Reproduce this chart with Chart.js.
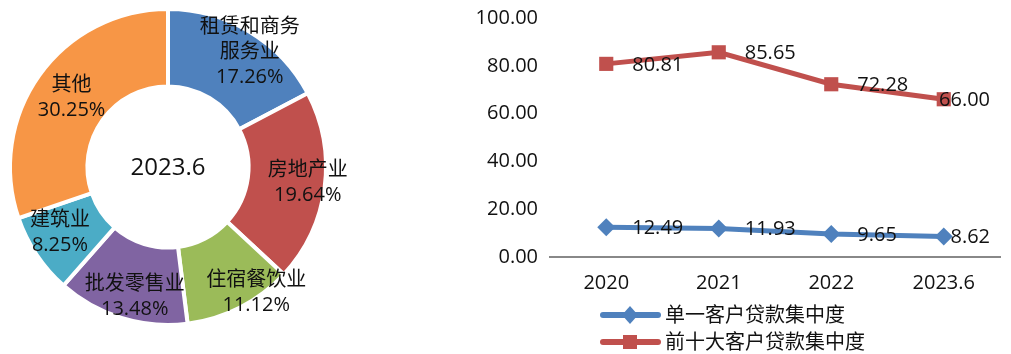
<!DOCTYPE html>
<html>
<head>
<meta charset="utf-8">
<script src="https://cdn.jsdelivr.net/npm/chart.js@4.4.0/dist/chart.umd.min.js"></script>
<style>
html, body { margin: 0; padding: 0; background: #fff; }
body { width: 1011px; height: 354px; position: relative; overflow: hidden; }
#pieBox { position: absolute; left: 0; top: 0; width: 380px; height: 354px; }
#lineBox { position: absolute; left: 470px; top: 0; width: 541px; height: 354px; }
</style>
</head>
<body>
<div id="pieBox"><canvas id="pieChart"></canvas></div>
<div id="lineBox"><canvas id="lineChart"></canvas></div>
<script>
const FONT = "'Open Sans', 'Noto Sans CJK SC', sans-serif";

// 贷款行业分布 (2023.6)
const industries = [['租赁和商务', '服务业'], ['房地产业'], ['住宿餐饮业'], ['批发零售业'], ['建筑业'], ['其他']];
const industryShares = [17.26, 19.64, 11.12, 13.48, 8.25, 30.25];
const centerLabel = '2023.6';

// 客户集中度
const years = ['2020', '2021', '2022', '2023.6'];
const singleClient = [12.49, 11.93, 9.65, 8.62];
const topTenClients = [80.81, 85.65, 72.28, 66.00];
const yTicks = [0, 20, 40, 60, 80, 100];

const sliceColors = ['#4F81BD', '#C0504D', '#9BBB59', '#8064A2', '#4BACC6', '#F79646'];
// slice label placement: share of outer radius, and nudge off the mid angle (degrees)
const labelRadius = [0.89, 0.89, 0.97, 0.85, 0.8, 0.75];
const labelTurn = [4.5, -1, -8, -2.8, 2.5, 0];

const sliceLabels = {
  id: 'sliceLabels',
  afterDatasetsDraw(chart) {
    const ctx = chart.ctx;
    const arcs = chart.getDatasetMeta(0).data;
    ctx.save();
    ctx.font = '20px ' + FONT;
    ctx.fillStyle = '#111';
    ctx.textAlign = 'center';
    ctx.textBaseline = 'middle';
    arcs.forEach((arc, i) => {
      const p = arc.getProps(['x', 'y', 'startAngle', 'endAngle', 'outerRadius'], true);
      const mid = (p.startAngle + p.endAngle) / 2 + labelTurn[i] * Math.PI / 180;
      const r = p.outerRadius * labelRadius[i];
      const cx = p.x + Math.cos(mid) * r;
      const cy = p.y + Math.sin(mid) * r;
      const lines = industries[i].concat(industryShares[i].toFixed(2) + '%');
      lines.forEach((t, k) => ctx.fillText(t, cx, cy + (k - (lines.length - 1) / 2) * 25));
    });
    ctx.font = '24px ' + FONT;
    ctx.fillText(centerLabel, arcs[0].x, arcs[0].y + 1);
    ctx.restore();
  }
};

new Chart(document.getElementById('pieChart'), {
  type: 'doughnut',
  data: {
    labels: industries.map(l => l.join('')),
    datasets: [{
      data: industryShares,
      backgroundColor: sliceColors,
      borderColor: '#ffffff',
      borderWidth: 4
    }]
  },
  options: {
    responsive: true,
    maintainAspectRatio: false,
    animation: false,
    cutout: '51%',
    layout: { padding: { left: 8, top: 7, right: 52, bottom: 27 } },
    plugins: { legend: { display: false }, tooltip: { enabled: false } }
  },
  plugins: [sliceLabels]
});

function drawMarker(ctx, style, x, y, color) {
  ctx.fillStyle = color;
  ctx.beginPath();
  if (style === 'rect') {
    ctx.rect(x - 7, y - 7, 14, 14);
  } else {
    ctx.moveTo(x, y - 9);
    ctx.lineTo(x + 8, y);
    ctx.lineTo(x, y + 9);
    ctx.lineTo(x - 8, y);
    ctx.closePath();
  }
  ctx.fill();
}

const pointLabels = {
  id: 'pointLabels',
  afterDatasetsDraw(chart) {
    const ctx = chart.ctx;
    const limit = chart.chartArea.right - 10;
    ctx.save();
    ctx.font = '20px ' + FONT;
    ctx.fillStyle = '#111';
    ctx.textBaseline = 'middle';
    chart.data.datasets.forEach((ds, d) => {
      chart.getDatasetMeta(d).data.forEach((pt, i) => {
        const txt = ds.data[i].toFixed(2);
        const w = ctx.measureText(txt).width;
        let x = pt.x + 26;
        if (x + w > limit) x = limit - w;
        ctx.fillText(txt, x, pt.y + 1);
      });
    });
    ctx.restore();
  }
};

const lineLegend = {
  id: 'lineLegend',
  afterDraw(chart) {
    const ctx = chart.ctx;
    const rows = [315, 342];
    ctx.save();
    ctx.font = '20px ' + FONT;
    ctx.textBaseline = 'middle';
    chart.data.datasets.forEach((ds, d) => {
      const y = rows[d];
      ctx.strokeStyle = ds.borderColor;
      ctx.lineWidth = 6;
      ctx.lineCap = 'round';
      ctx.beginPath();
      ctx.moveTo(133, y);
      ctx.lineTo(188, y);
      ctx.stroke();
      drawMarker(ctx, ds.pointStyle, 160, y, ds.borderColor);
      ctx.fillStyle = '#111';
      ctx.fillText(ds.label, 195, y + 1);
    });
    ctx.restore();
  }
};

new Chart(document.getElementById('lineChart'), {
  type: 'line',
  data: {
    labels: years,
    datasets: [{
      label: '单一客户贷款集中度',
      data: singleClient,
      borderColor: '#4F81BD',
      backgroundColor: '#4F81BD',
      borderWidth: 5,
      pointStyle: 'rectRot',
      pointRadius: 9,
      pointBorderWidth: 0
    }, {
      label: '前十大客户贷款集中度',
      data: topTenClients,
      borderColor: '#C0504D',
      backgroundColor: '#C0504D',
      borderWidth: 5,
      pointStyle: 'rect',
      pointRadius: 10,
      pointBorderWidth: 0
    }]
  },
  options: {
    responsive: true,
    maintainAspectRatio: false,
    animation: false,
    layout: { padding: { top: 18, right: 11, bottom: 0, left: 0 } },
    plugins: { legend: { display: false }, tooltip: { enabled: false } },
    scales: {
      x: {
        offset: true,
        grid: { display: false, drawTicks: false },
        border: { display: true, color: '#888888', width: 2 },
        ticks: { color: '#111', font: { family: FONT, size: 20 }, padding: 14 },
        afterFit: s => { s.height = 97; }
      },
      y: {
        min: 0,
        max: 100,
        grid: { display: false, drawTicks: false },
        border: { display: false },
        afterBuildTicks: s => { s.ticks = yTicks.map(v => ({ value: v })); },
        ticks: {
          color: '#111',
          font: { family: FONT, size: 20 },
          padding: 12,
          callback: v => Number(v).toFixed(2)
        },
        afterFit: s => { s.width = 80; s.paddingTop = 0; s.paddingBottom = 0; }
      }
    }
  },
  plugins: [pointLabels, lineLegend]
});
</script>
</body>
</html>
